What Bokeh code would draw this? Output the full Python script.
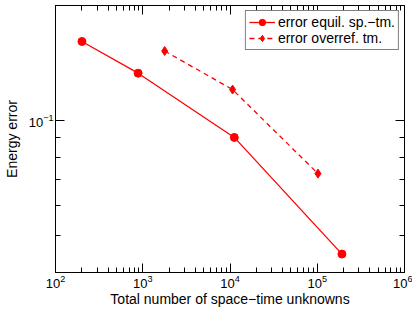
from bokeh.plotting import figure
from bokeh.models import FixedTicker, LinearAxis, LogTickFormatter, BasicTickFormatter, Range1d, Legend
from bokeh.embed import file_html
from bokeh.resources import INLINE

# data
dofs_equil = [201, 885, 11200, 192000]
err_equil = [0.161, 0.133, 0.0903, 0.0447]
dofs_over = [1783, 10700, 101900]
err_over = [0.152, 0.1205, 0.0726]

x_major = [1e2, 1e3, 1e4, 1e5, 1e6]
x_minor = [m * 10**e for e in range(2, 6) for m in range(2, 10)]
y_major = [0.1]
y_minor = [0.04, 0.05, 0.06, 0.07, 0.08, 0.09, 0.2]

FONT = "Liberation Sans"
RED = "#ff0000"

p = figure(width=412, height=309, x_axis_type="log", y_axis_type="log",
           x_range=Range1d(1e2, 1e6), y_range=Range1d(0.04, 0.2),
           output_backend="svg", toolbar_location=None,
           min_border_left=50, min_border_right=8, min_border_top=5, min_border_bottom=0)

p.xgrid.visible = False
p.ygrid.visible = False
p.outline_line_color = "black"
p.outline_line_width = 1
p.background_fill_color = "white"
p.border_fill_color = "white"

xt = FixedTicker(ticks=x_major, minor_ticks=x_minor)
yt = FixedTicker(ticks=y_major, minor_ticks=y_minor)

def style(ax, labels=True):
    ax.major_tick_in = 9
    ax.major_tick_out = 0
    ax.minor_tick_in = 5
    ax.minor_tick_out = 0
    ax.major_tick_line_color = "black"
    ax.minor_tick_line_color = "black"
    ax.major_tick_line_width = 1
    ax.minor_tick_line_width = 1
    ax.axis_line_color = "black"
    ax.major_label_text_font = FONT
    ax.major_label_text_font_size = "13px" if labels else "1px"
    ax.major_label_text_color = "black" if labels else None
    ax.major_label_standoff = 2 if labels else 0
    ax.axis_label_text_font = FONT
    ax.axis_label_text_font_size = "14px"
    ax.axis_label_text_font_style = "normal"
    ax.axis_label_text_color = "black"

p.xaxis.ticker = xt
p.yaxis.ticker = yt
p.xaxis.formatter = LogTickFormatter()
p.yaxis.formatter = LogTickFormatter()
p.xaxis.axis_label = "Total number of space\u2212time unknowns"
p.yaxis.axis_label = "Energy error"
p.xaxis.axis_label_standoff = 0
p.yaxis.axis_label_standoff = 6
style(p.xaxis[0])
style(p.yaxis[0])

top = LinearAxis(ticker=xt, formatter=BasicTickFormatter())
right = LinearAxis(ticker=yt, formatter=BasicTickFormatter())
style(top, labels=False)
style(right, labels=False)
p.add_layout(top, "above")
p.add_layout(right, "right")

r1 = p.line(dofs_equil, err_equil, line_color=RED, line_width=1.3)
m1 = p.scatter(dofs_equil, err_equil, marker="circle", size=8, fill_color=RED, line_color=RED)
r2 = p.line(dofs_over, err_over, line_color=RED, line_width=1.3, line_dash="5 4")
m2 = p.scatter(dofs_over, err_over, marker="diamond", size=9, fill_color=RED, line_color=RED)

legend = Legend(items=[("error equil. sp.\u2212tm.", [r1, m1]), ("error overref. tm.", [r2, m2])],
                location="top_right")
legend.label_text_font = FONT
legend.label_text_font_size = "14px"
legend.label_text_color = "black"
legend.border_line_color = "black"
legend.border_line_width = 1
legend.background_fill_alpha = 1
legend.glyph_width = 26
legend.glyph_height = 16
legend.label_height = 16
legend.label_standoff = 3
legend.padding = 3
legend.spacing = 0
legend.margin = 5
p.add_layout(legend, "center")

open("out.html", "w").write(file_html(p, INLINE))
